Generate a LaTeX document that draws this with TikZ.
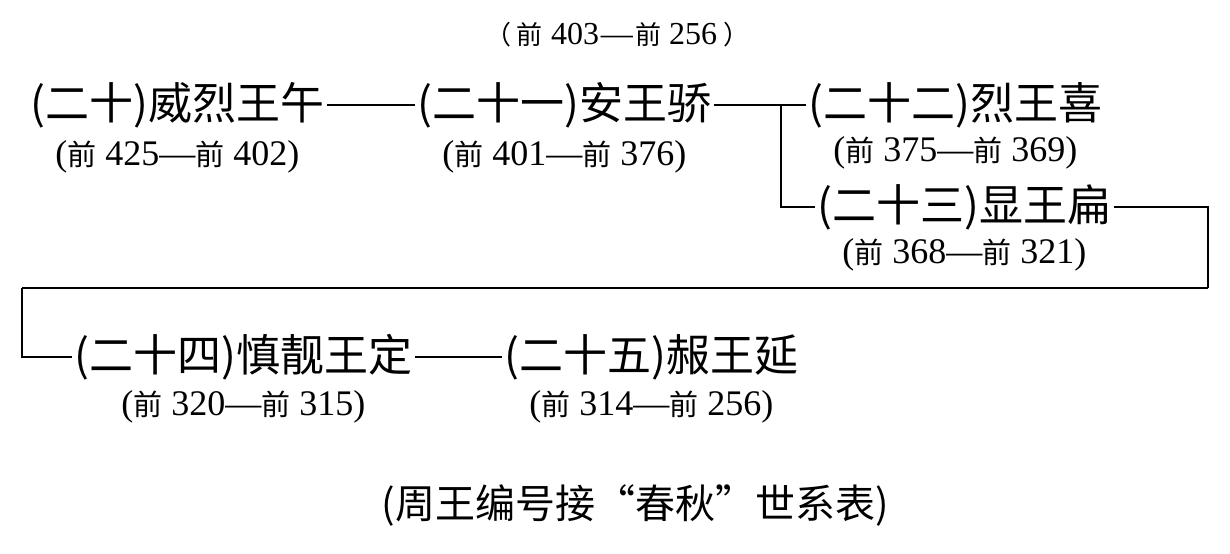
\documentclass[tikz,border=0pt]{standalone}
\usepackage{fontspec}
\setmainfont{Liberation Serif}
\newfontfamily\cjk{Noto Sans CJK SC}
\usetikzlibrary{calc}
\newcommand\qian{{\cjk\fontsize{14.5pt}{14.5pt}\selectfont 前}}
\newcommand\qiansm{{\cjk\fontsize{13pt}{13pt}\selectfont 前}}
\newcommand\lpf{{\cjk\fontsize{13pt}{13pt}\selectfont （}}
\newcommand\rpf{{\cjk\fontsize{13pt}{13pt}\selectfont ）}}
\begin{document}
\begin{tikzpicture}[x=0.5pt,y=-0.5pt,
  king/.style={font=\cjk\fontsize{22pt}{24pt}\selectfont, inner xsep=1pt, inner ysep=0pt, anchor=west},
  yr/.style={font=\fontsize{18pt}{20pt}\selectfont, inner sep=0pt},
  link/.style={line width=0.75pt},
  heavy/.style={line width=1.2pt}]
\useasboundingbox (0,0) rectangle (1230,553);
\node[inner sep=0pt, font=\fontsize{16pt}{18pt}\selectfont] (top) at (617,35) {\lpf\hspace{3pt}\qiansm\hspace{4pt}403\hspace{1pt}—\hspace{1pt}\qiansm\hspace{4pt}256\hspace{3pt}\rpf};
\node[king] (a) at (28,105) {(二十)威烈王午};
\node[king] (b) at (415,105) {(二十一)安王骄};
\node[king] (c) at (806,105) {(二十二)烈王喜};
\node[king] (d) at (815,207) {(二十三)显王扁};
\node[king] (e) at (72,357) {(二十四)慎靓王定};
\node[king] (f) at (502,357) {(二十五)赧王延};
\node[yr] (ad) at ($(a.center)+(0,52)$) {(\qian\ 425—\qian\ 402)};
\node[yr] (bd) at ($(b.center)+(0,52)$) {(\qian\ 401—\qian\ 376)};
\node[yr] (cd) at ($(c.center)+(0,48)$) {(\qian\ 375—\qian\ 369)};
\node[yr] (dd) at ($(d.center)+(0,48)$) {(\qian\ 368—\qian\ 321)};
\node[yr] (ed) at ($(e.center)+(0,50)$) {(\qian\ 320—\qian\ 315)};
\node[yr] (fd) at ($(f.center)+(0,50)$) {(\qian\ 314—\qian\ 256)};
\coordinate (br) at (781,105);
\coordinate (rt) at (1208,288);
\coordinate (lt) at (22,288);
\draw[link] (a.east) -- (b.west);
\draw[link] (b.east) -- (br) -- (c.west);
\draw[link] (br) |- (d.west);
\draw[link] (d.east) -| (rt);
\draw[heavy] (rt) -- (lt);
\draw[link] (lt) |- (e.west);
\draw[link] (e.east) -- (f.west);
\node[inner sep=0pt, font=\cjk\fontsize{20pt}{22pt}\selectfont] (cap) at (635,505) {(周王编号接“春秋”世系表)};
\end{tikzpicture}
\end{document}
